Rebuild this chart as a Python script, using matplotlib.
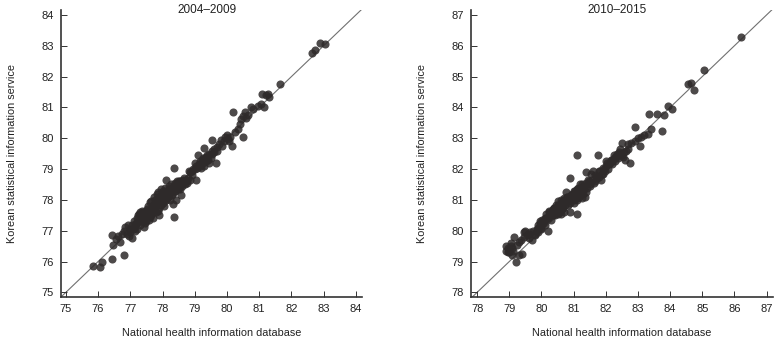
import matplotlib
matplotlib.use("Agg")
import matplotlib.pyplot as plt
from matplotlib import font_manager

# ---------------- data ----------------
titles = ["2004\u20132009", "2010\u20132015"]
xlabel = "National health information database"
ylabel = "Korean statistical information service"
ticks_left = [75, 76, 77, 78, 79, 80, 81, 82, 83, 84]
ticks_right = [78, 79, 80, 81, 82, 83, 84, 85, 86, 87]

x_left = [75.85, 76.05, 76.12, 76.42, 76.82, 76.42, 76.47, 76.55, 76.62, 76.68,
          76.75, 76.8, 76.85, 76.92, 76.95, 77.0, 77.05, 77.08, 77.12, 77.15,
          77.2, 77.22, 77.25, 77.28, 77.3, 77.32, 77.35, 77.38, 77.4, 77.42,
          77.45, 77.48, 77.5, 77.52, 77.55, 77.58, 77.6, 77.62, 77.65, 77.68,
          77.7, 77.72, 77.75, 77.78, 77.8, 77.82, 77.85, 77.88, 77.9, 77.92,
          77.95, 77.98, 78.0, 78.02, 78.05, 78.08, 78.1, 78.12, 78.15, 78.18,
          78.2, 78.22, 78.25, 78.28, 78.3, 78.32, 78.35, 78.35, 78.38, 78.4,
          78.42, 78.45, 78.48, 78.5, 78.52, 78.55, 78.58, 78.6, 78.62, 78.65,
          78.68, 78.7, 78.72, 78.75, 78.8, 78.82, 78.85, 78.9, 78.95, 79.0,
          79.05, 79.08, 79.1, 79.12, 79.15, 79.2, 79.22, 79.25, 79.28, 79.3,
          79.32, 79.35, 79.38, 79.4, 79.45, 79.5, 79.52, 79.55, 79.6, 79.65,
          79.68, 79.75, 79.8, 79.85, 79.9, 79.95, 80.0, 80.02, 80.05, 80.1,
          80.15, 80.2, 80.25, 80.35, 80.4, 80.45, 80.5, 80.5, 80.55, 80.6,
          80.65, 80.75, 80.8, 80.95, 81.05, 81.1, 81.15, 81.2, 81.28, 81.3,
          81.65, 82.65, 82.72, 82.9, 83.05,
          77.1, 77.18, 77.25, 77.35, 77.4, 77.45, 77.5, 77.55, 77.6, 77.65,
          77.7, 77.75, 77.8, 77.85, 77.9, 77.95, 78.0, 78.05, 78.1, 78.15,
          78.2, 78.25, 78.3, 78.35, 78.4, 78.45, 78.5, 78.55, 78.6, 78.65,
          78.7, 78.75, 78.45, 78.55, 78.85, 78.92, 79.0, 79.05, 79.15, 79.25,
          79.35, 79.45, 79.55, 79.6, 79.7, 77.0, 76.9, 77.05, 77.15, 77.3,
          77.5, 77.6, 77.7, 77.8, 77.9, 78.0, 77.85, 77.95, 78.1, 78.2]
y_left = [75.85, 75.82, 75.97, 76.07, 76.2, 76.85, 76.55, 76.72, 76.82, 76.65,
          76.88, 76.98, 77.12, 77.2, 76.82, 76.95, 76.78, 77.05, 77.32, 77.18,
          77.4, 77.05, 77.28, 77.55, 77.2, 77.42, 77.65, 77.3, 77.5, 77.12,
          77.38, 77.6, 77.45, 77.72, 77.55, 77.35, 77.68, 77.92, 77.5, 77.78,
          77.6, 77.85, 77.7, 78.0, 77.82, 78.2, 77.65, 77.95, 77.5, 78.1,
          77.85, 78.05, 78.28, 77.9, 78.15, 78.4, 78.0, 78.65, 78.25, 78.1,
          78.35, 78.0, 78.5, 78.2, 78.4, 77.88, 77.45, 79.02, 78.3, 78.55,
          78.0, 78.45, 78.35, 78.6, 78.4, 78.52, 78.15, 78.62, 78.45, 78.58,
          78.7, 78.5, 78.65, 78.6, 78.72, 78.95, 78.65, 78.8, 79.0, 79.2,
          78.65, 79.05, 79.45, 79.15, 79.25, 79.05, 79.3, 79.2, 79.68, 79.1,
          79.35, 79.25, 79.45, 79.3, 79.5, 79.35, 79.6, 79.95, 79.55, 79.2,
          79.7, 79.8, 79.95, 79.75, 79.9, 80.05, 80.1, 79.98, 79.92, 80.05,
          79.75, 80.85, 80.2, 80.3, 80.45, 80.62, 80.05, 80.72, 80.85, 80.65,
          80.75, 81.0, 80.95, 81.05, 81.1, 81.45, 81.0, 81.4, 81.45, 81.35,
          81.75, 82.75, 82.85, 83.1, 83.05,
          77.1, 77.25, 77.5, 77.35, 77.62, 77.25, 77.3, 77.8, 77.45, 77.95,
          77.4, 78.1, 77.6, 78.25, 77.75, 78.15, 77.95, 77.8, 78.3, 78.05,
          78.2, 78.3, 78.15, 78.45, 78.3, 78.55, 78.45, 78.6, 78.5, 78.65,
          78.6, 78.55, 78.6, 78.35, 78.9, 78.95, 79.0, 79.1, 79.1, 79.35,
          79.4, 79.2, 79.5, 79.65, 79.6, 77.05, 76.9, 77.2, 77.0, 77.6,
          77.65, 77.55, 77.7, 77.9, 78.0, 78.1, 78.05, 78.35, 78.15, 78.45]

x_right = [86.2, 85.05, 84.55, 84.65, 84.75, 83.95, 84.05, 83.8, 83.75, 83.6,
           83.35, 83.4, 83.3, 83.2, 83.1, 83.0, 82.9, 83.05, 82.9, 82.8,
           82.75, 82.6, 82.55, 82.5, 82.45, 82.4, 82.35, 82.3, 82.25, 82.2,
           82.15, 82.1, 82.05, 82.0, 81.95, 81.9, 81.85, 81.8, 81.75, 81.1,
           81.7, 81.65, 81.6, 81.55, 81.5, 81.45, 81.4, 81.4, 81.35, 81.3,
           78.9, 78.95, 79.0, 79.05, 79.1, 79.15, 79.2, 79.25, 79.3, 79.35,
           79.4, 79.45, 79.5, 79.55, 79.6, 79.7, 79.75, 79.8, 79.85, 79.9,
           79.95, 80.0, 80.05, 80.1, 80.15, 80.2, 80.25, 80.3, 80.35, 80.4,
           80.45, 80.5, 80.55, 80.6, 80.65, 80.7, 80.75, 80.8, 80.85, 80.9,
           80.9, 80.95, 81.0, 81.05, 81.1, 81.15, 81.2, 81.25, 81.3,
           78.9, 78.95, 79.0, 79.05, 79.1, 79.12, 79.3, 79.45, 79.6, 79.65,
           79.8, 79.85, 79.9, 79.95, 80.0, 80.02, 80.08, 80.12, 80.15, 80.2,
           80.22, 80.28, 80.3, 80.32, 80.38, 80.4, 80.42, 80.48, 80.5, 80.52,
           80.58, 80.6, 80.62, 80.68, 80.7, 80.72, 80.78, 80.8, 80.82, 80.88,
           80.92, 80.98, 81.0, 81.02, 81.08, 81.1, 81.12, 81.18, 81.2, 81.22,
           81.28, 81.32, 81.38, 81.42, 81.48, 81.52, 81.58, 81.62, 81.68, 81.72,
           81.78, 81.82, 81.88, 81.92, 81.98, 82.02, 82.08, 82.12, 82.18, 82.22,
           82.28, 82.32, 82.38, 82.42, 82.48, 82.52, 82.58, 82.62, 82.68, 82.7,
           80.4, 80.5, 80.6, 80.7, 80.3, 80.2, 80.1, 80.0, 79.9, 81.0,
           81.1, 81.2, 80.8, 80.9, 81.15, 81.25, 80.55, 80.45, 80.65, 80.35]
y_right = [86.3, 85.2, 84.75, 84.8, 84.55, 84.05, 83.95, 83.75, 83.25, 83.8,
           83.8, 83.3, 83.15, 83.1, 83.05, 83.0, 83.35, 82.75, 82.9, 82.85,
           82.2, 82.3, 82.4, 82.85, 82.65, 82.55, 82.5, 82.4, 82.45, 82.3,
           82.3, 82.15, 82.2, 82.25, 82.0, 81.85, 81.65, 81.95, 82.45, 82.45,
           81.75, 81.6, 81.95, 81.85, 81.5, 81.65, 81.9, 81.25, 81.1, 81.4,
           79.5, 79.3, 79.4, 79.6, 79.2, 79.8, 79.0, 79.55, 79.2, 79.7,
           79.25, 79.95, 80.0, 79.85, 79.9, 79.7, 80.0, 79.85, 80.05, 80.2,
           80.3, 80.1, 80.25, 80.4, 80.55, 80.0, 80.65, 80.5, 80.7, 80.6,
           80.85, 80.55, 80.75, 81.0, 80.8, 80.6, 81.25, 80.95, 81.1, 81.7,
           80.6, 81.2, 81.0, 81.3, 80.55, 81.4, 81.15, 81.5, 81.2,
           79.35, 79.45, 79.3, 79.5, 79.45, 79.35, 79.65, 79.8, 79.75, 79.95,
           79.9, 80.0, 79.95, 80.25, 80.05, 80.35, 80.3, 80.2, 80.4, 80.45,
           80.6, 80.5, 80.35, 80.65, 80.55, 80.75, 80.5, 80.6, 80.85, 80.7,
           80.8, 80.55, 80.9, 80.75, 81.05, 80.85, 80.95, 81.1, 80.85, 81.0,
           81.15, 81.05, 81.3, 80.9, 81.2, 81.05, 81.35, 81.1, 81.5, 81.3,
           81.45, 81.35, 81.55, 81.4, 81.6, 81.45, 81.65, 81.55, 81.8, 81.7,
           81.75, 81.95, 81.85, 82.05, 81.95, 82.1, 82.0, 82.2, 82.15, 82.3,
           82.25, 82.4, 82.35, 82.45, 82.5, 82.45, 82.55, 82.6, 82.65, 82.8,
           80.75, 80.95, 80.7, 81.0, 80.55, 80.4, 80.35, 80.2, 80.1, 81.2,
           81.0, 81.35, 81.1, 80.9, 81.3, 81.05, 80.6, 80.65, 80.7, 80.5]

# ---------------- style ----------------
avail = {f.name for f in font_manager.fontManager.ttflist}
fam = "Liberation Sans Narrow" if "Liberation Sans Narrow" in avail else "Liberation Sans"
plt.rcParams["font.family"] = [fam, "DejaVu Sans"]

fig = plt.figure(figsize=(7.74, 3.4), dpi=100)
ax1 = fig.add_axes([61 / 774, 1 - 297 / 340, 301 / 774, 287 / 340])
ax2 = fig.add_axes([471 / 774, 1 - 297 / 340, 302 / 774, 287 / 340])

panels = [
    (ax1, x_left, y_left, ticks_left, (74.85, 84.19), (74.85, 84.16), titles[0]),
    (ax2, x_right, y_right, ticks_right, (77.81, 87.2), (77.85, 87.16), titles[1]),
]
for ax, xs, ys, ticks, xl, yl, title in panels:
    ax.axline((ticks[0], ticks[0]), slope=1, color="#707070", lw=0.8, zorder=1)
    ax.scatter(xs, ys, s=34, color="#2e2a2a", alpha=0.85, linewidths=0, zorder=2)
    ax.set_xlim(*xl)
    ax.set_ylim(*yl)
    ax.set_xticks(ticks)
    ax.set_yticks(ticks)
    ax.set_xticklabels([str(t) for t in ticks])
    ax.set_yticklabels([str(t) for t in ticks])
    for s in ["top", "right"]:
        ax.spines[s].set_visible(False)
    for s in ["left", "bottom"]:
        ax.spines[s].set_color("#333333")
        ax.spines[s].set_linewidth(1.2)
    ax.tick_params(direction="in", length=4, width=0.7, color="#333333",
                   labelsize=8, labelcolor="#222222", pad=5)
    ax.set_xlabel(xlabel, fontsize=7.8, color="#222222", labelpad=10)
    ax.set_ylabel(ylabel, fontsize=7.8, color="#222222", labelpad=18)
    ax.text(0.484, 1.0, title, transform=ax.transAxes, ha="center", va="center",
            fontsize=8.5, color="#222222")

fig.savefig("out.png", dpi=100)
